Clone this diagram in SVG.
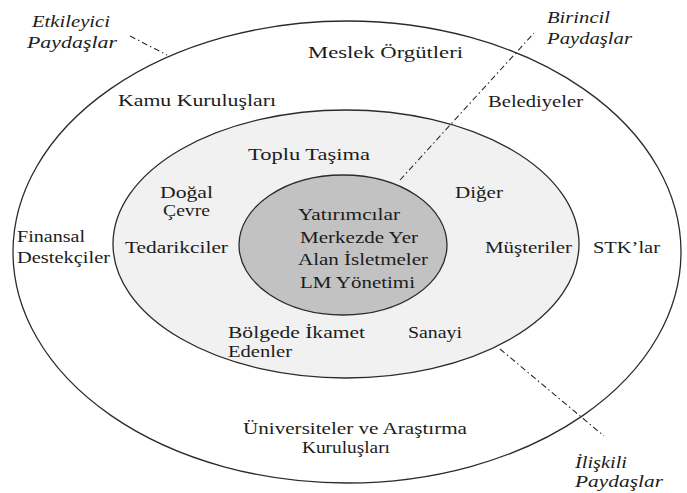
<svg xmlns="http://www.w3.org/2000/svg" width="687" height="493" viewBox="0 0 687 493">
  <style>
    .ring { stroke: #2b2b2b; stroke-width: 1.3; }
    .lbl { font-family: 'Liberation Serif', Tinos, 'Times New Roman', 'Nimbus Roman', serif; font-size: 17.5px; fill: #1c1c1c; }
    .it { font-style: italic; }
    .dd { stroke: #2b2b2b; stroke-width: 1.1; stroke-dasharray: 6 3 1.5 3; fill: none; }
  </style>
  <rect width="687" height="493" fill="#ffffff"/>

  <!-- concentric stakeholder rings -->
  <g id="ring-outer"><ellipse class="ring" cx="347" cy="252" rx="334" ry="231" fill="#ffffff"/></g>
  <g id="ring-middle"><ellipse class="ring" cx="346" cy="244" rx="233" ry="134" fill="#f1f1f1"/></g>
  <g id="ring-inner"><ellipse class="ring" cx="343" cy="245" rx="104" ry="70" fill="#c2c2c2"/></g>

  <!-- dash-dot leader lines -->
  <g id="connectors">
    <line class="dd" x1="130" y1="36" x2="167" y2="55"/>
    <line class="dd" x1="400" y1="180" x2="534" y2="33"/>
    <line class="dd" x1="500" y1="349" x2="604" y2="436"/>
  </g>

  <!-- ring captions -->
  <g id="cap-etkileyici" font-family="Liberation Serif, serif">
    <text class="lbl it" x="32" y="27" textLength="78" lengthAdjust="spacingAndGlyphs">Etkileyici</text>
    <text class="lbl it" x="27" y="48" textLength="90" lengthAdjust="spacingAndGlyphs">Paydaşlar</text>
  </g>
  <g id="cap-birincil">
    <text class="lbl it" x="547" y="23" textLength="63" lengthAdjust="spacingAndGlyphs">Birincil</text>
    <text class="lbl it" x="547" y="44" textLength="85" lengthAdjust="spacingAndGlyphs">Paydaşlar</text>
  </g>
  <g id="cap-iliskili">
    <text class="lbl it" x="575" y="468" textLength="52" lengthAdjust="spacingAndGlyphs">İlişkili</text>
    <text class="lbl it" x="575" y="487" textLength="88" lengthAdjust="spacingAndGlyphs">Paydaşlar</text>
  </g>

  <!-- outer ring stakeholders -->
  <g id="n-meslek"><text class="lbl" x="308" y="58" textLength="155" lengthAdjust="spacingAndGlyphs">Meslek Örgütleri</text></g>
  <g id="n-kamu"><text class="lbl" x="118" y="106" textLength="158" lengthAdjust="spacingAndGlyphs">Kamu Kuruluşları</text></g>
  <g id="n-belediyeler"><text class="lbl" x="488" y="107" textLength="95" lengthAdjust="spacingAndGlyphs">Belediyeler</text></g>
  <g id="n-finansal">
    <text class="lbl" x="17" y="242" textLength="68" lengthAdjust="spacingAndGlyphs">Finansal</text>
    <text class="lbl" x="17" y="263" textLength="93" lengthAdjust="spacingAndGlyphs">Destekçiler</text>
  </g>
  <g id="n-stk"><text class="lbl" x="593" y="253" textLength="67" lengthAdjust="spacingAndGlyphs">STK’lar</text></g>
  <g id="n-universite">
    <text class="lbl" x="243" y="434" textLength="224" lengthAdjust="spacingAndGlyphs">Üniversiteler ve Araştırma</text>
    <text class="lbl" x="302" y="453" textLength="88" lengthAdjust="spacingAndGlyphs">Kuruluşları</text>
  </g>

  <!-- middle ring stakeholders -->
  <g id="n-toplu"><text class="lbl" x="248" y="160" textLength="122" lengthAdjust="spacingAndGlyphs">Toplu Taşima</text></g>
  <g id="n-dogal">
    <text class="lbl" x="160" y="198" textLength="53" lengthAdjust="spacingAndGlyphs">Doğal</text>
    <text class="lbl" x="163" y="216" textLength="47" lengthAdjust="spacingAndGlyphs">Çevre</text>
  </g>
  <g id="n-tedarik"><text class="lbl" x="125" y="253" textLength="103" lengthAdjust="spacingAndGlyphs">Tedarikciler</text></g>
  <g id="n-diger"><text class="lbl" x="455" y="198" textLength="48" lengthAdjust="spacingAndGlyphs">Diğer</text></g>
  <g id="n-musteri"><text class="lbl" x="485" y="253" textLength="87" lengthAdjust="spacingAndGlyphs">Müşteriler</text></g>
  <g id="n-bolge">
    <text class="lbl" x="228" y="338" textLength="137" lengthAdjust="spacingAndGlyphs">Bölgede İkamet</text>
    <text class="lbl" x="228" y="357" textLength="64" lengthAdjust="spacingAndGlyphs">Edenler</text>
  </g>
  <g id="n-sanayi"><text class="lbl" x="408" y="338" textLength="54" lengthAdjust="spacingAndGlyphs">Sanayi</text></g>

  <!-- core stakeholders -->
  <g id="n-core">
    <text class="lbl" x="298" y="220" textLength="102" lengthAdjust="spacingAndGlyphs">Yatırımcılar</text>
    <text class="lbl" x="300" y="243" textLength="118" lengthAdjust="spacingAndGlyphs">Merkezde Yer</text>
    <text class="lbl" x="298" y="265" textLength="130" lengthAdjust="spacingAndGlyphs">Alan İsletmeler</text>
    <text class="lbl" x="300" y="288" textLength="115" lengthAdjust="spacingAndGlyphs">LM Yönetimi</text>
  </g>
</svg>
